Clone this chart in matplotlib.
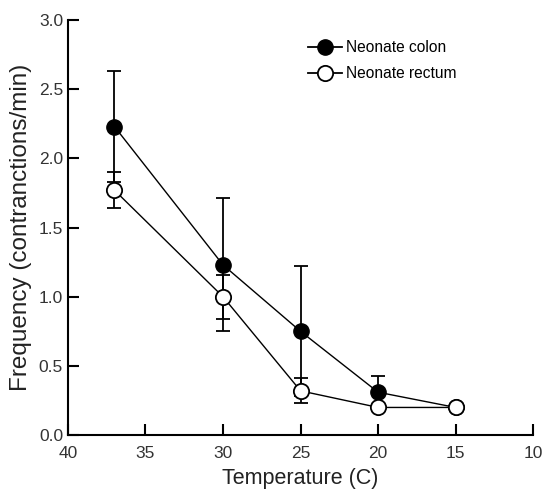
import matplotlib.pyplot as plt
from matplotlib.lines import Line2D
from matplotlib.ticker import MultipleLocator

plt.rcParams['font.family'] = ['Liberation Sans', 'DejaVu Sans']

# temperatures (C)
temp = [37, 30, 25, 20, 15]

colon = [2.23, 1.23, 0.75, 0.31, 0.20]
colon_err = [0.40, 0.48, 0.47, 0.12, 0.0]

rectum = [1.77, 1.00, 0.32, 0.20, 0.20]
rectum_err = [0.13, 0.16, 0.09, 0.0, 0.0]

fig = plt.figure(figsize=(5.43, 4.99), dpi=100)
ax = fig.add_axes([0.125, 0.128, 0.857, 0.832])

ax.errorbar(temp, colon, yerr=colon_err, color='black', lw=1, elinewidth=1.3,
            capsize=5, capthick=1.3, marker='o', ms=11, mfc='black', mec='black',
            zorder=3)
ax.errorbar(temp, rectum, yerr=rectum_err, color='black', lw=1, elinewidth=1.3,
            capsize=5, capthick=1.3, marker='o', ms=11, mfc='white', mec='black',
            mew=1.3, zorder=4)

ax.set_xlim(40, 10)
ax.set_ylim(0, 3.0)
ax.xaxis.set_major_locator(MultipleLocator(5))
ax.yaxis.set_major_locator(MultipleLocator(0.5))
ax.yaxis.set_major_formatter(plt.FormatStrFormatter('%.1f'))

for s in ['top', 'right']:
    ax.spines[s].set_visible(False)
for s in ['left', 'bottom']:
    ax.spines[s].set_linewidth(1.5)
ax.tick_params(direction='in', length=8, width=1.5, labelsize=12.5,
               labelcolor='#333333')
ax.tick_params(axis='x', pad=8)

ax.set_xlabel('Temperature (C)', fontsize=15.5, color='#222222', labelpad=5)
ax.set_ylabel('Frequency (contranctions/min)', fontsize=17.5, color='#222222', labelpad=5)

handles = [
    Line2D([], [], color='black', lw=1.3, marker='o', ms=11, mfc='black', mec='black'),
    Line2D([], [], color='black', lw=1.3, marker='o', ms=11, mfc='white', mec='black', mew=1.3),
]
ax.legend(handles, ['Neonate colon', 'Neonate rectum'], loc='upper left',
          bbox_to_anchor=(0.485, 0.985), frameon=False, fontsize=11.2,
          handlelength=2.2, handletextpad=0.3, labelspacing=0.7)

fig.savefig('out.png', dpi=100)
